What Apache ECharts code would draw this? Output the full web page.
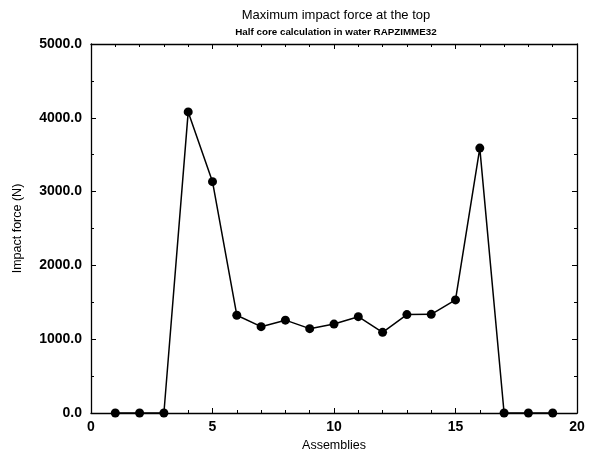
<!DOCTYPE html>
<html>
<head>
<meta charset="utf-8">
<script src="https://cdn.jsdelivr.net/npm/echarts@6/dist/echarts.min.js"></script>
<style>
  html, body { margin: 0; padding: 0; background: #fff; }
  #chart { width: 591px; height: 453px; }
</style>
</head>
<body>
<div id="chart"></div>
<script>
// Maximum impact force per assembly (N)
const assemblies = [1, 2, 3, 4, 5, 6, 7, 8, 9, 10, 11, 12, 13, 14, 15, 16, 17, 18, 19];
const impactForce = [0, 0, 0, 4080, 3135, 1325, 1170, 1258, 1143, 1205, 1305, 1093, 1333, 1337, 1532, 3590, 0, 0, 0];

const titleText = 'Maximum impact force at the top';
const subtitleText = 'Half core calculation in water RAPZIMME32';
const xName = 'Assemblies';
const yName = 'Impact force (N)';

const FONT = '"Liberation Sans", Arial, Helvetica, sans-serif';
const chart = echarts.init(document.getElementById('chart'));

// fresh style objects for every axis (frame drawn on all four sides, ticks inward)
const axisLine = () => ({ show: true, onZero: false, lineStyle: { color: '#000', width: 1.3 } });
const tickStyle = () => ({ show: true, inside: true, length: 5, lineStyle: { color: '#000', width: 1 } });
const minorTick = n => ({ show: true, splitNumber: n, length: 3, lineStyle: { color: '#000', width: 1 } });
const labelStyle = extra => Object.assign({
  fontFamily: FONT, fontSize: 14, fontWeight: 'bold', color: '#000'
}, extra);

chart.setOption({
  backgroundColor: '#fff',
  animation: false,
  title: [
    { text: titleText, left: 331, top: 4, textAlign: 'center',
      textStyle: { fontFamily: FONT, fontSize: 13, fontWeight: 'normal', color: '#000' } },
    { text: subtitleText, left: 331, top: 22, textAlign: 'center',
      textStyle: { fontFamily: FONT, fontSize: 9.8, fontWeight: 'bold', color: '#000' } }
  ],
  grid: { left: 91, right: 14, top: 44, bottom: 40, containLabel: false, outerBoundsMode: 'none' },
  xAxis: [
    { type: 'value', min: 0, max: 20, interval: 5, position: 'bottom',
      name: xName, nameLocation: 'middle', nameGap: 19,
      nameTextStyle: { fontFamily: FONT, fontSize: 12.5, color: '#000' },
      axisLine: axisLine(), axisTick: tickStyle(), minorTick: minorTick(5), splitLine: { show: false },
      axisLabel: labelStyle({ margin: 7 }) },
    { type: 'value', min: 0, max: 20, interval: 5, position: 'top',
      axisLine: axisLine(), axisTick: tickStyle(), minorTick: minorTick(5), splitLine: { show: false },
      axisLabel: { show: false } }
  ],
  yAxis: [
    { type: 'value', min: 0, max: 5000, interval: 1000, position: 'left',
      name: yName, nameLocation: 'middle', nameGap: 67, nameRotate: 90,
      nameTextStyle: { fontFamily: FONT, fontSize: 12.5, color: '#000' },
      axisLine: axisLine(), axisTick: tickStyle(), minorTick: minorTick(2), splitLine: { show: false },
      axisLabel: labelStyle({ margin: 9, formatter: v => v.toFixed(1) }) },
    { type: 'value', min: 0, max: 5000, interval: 1000, position: 'right',
      axisLine: axisLine(), axisTick: tickStyle(), minorTick: minorTick(2), splitLine: { show: false },
      axisLabel: { show: false } }
  ],
  series: [{
    type: 'line',
    xAxisIndex: 0,
    yAxisIndex: 0,
    data: assemblies.map((a, i) => [a, impactForce[i]]),
    symbol: 'circle',
    symbolSize: 9,
    itemStyle: { color: '#000' },
    lineStyle: { color: '#000', width: 1.5 },
    clip: false
  }]
});
</script>
</body>
</html>
